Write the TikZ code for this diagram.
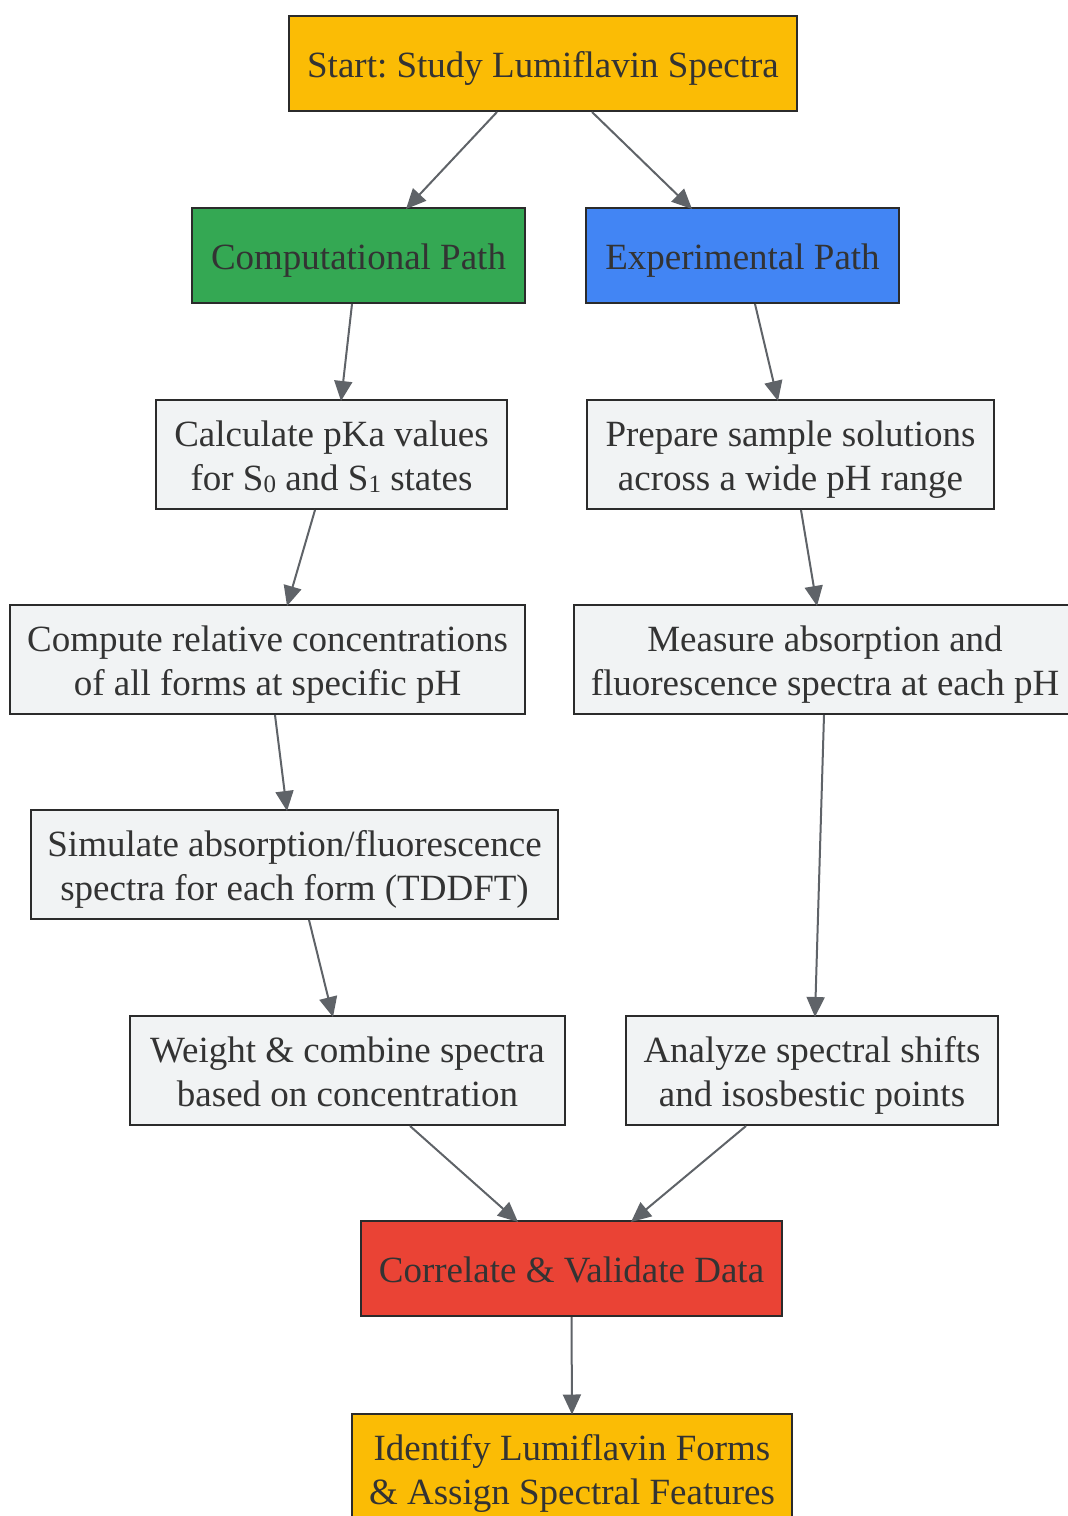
\documentclass[tikz,border=0pt]{standalone}
\usepackage{fontspec}
\setmainfont{Liberation Serif}
\usetikzlibrary{arrows.meta}
\definecolor{cyellow}{HTML}{FBBC05}
\definecolor{cgreen}{HTML}{34A853}
\definecolor{cblue}{HTML}{4285F4}
\definecolor{cgray}{HTML}{F1F3F4}
\definecolor{cred}{HTML}{EA4335}
\definecolor{cborder}{HTML}{2B2B2B}
\definecolor{ctext}{HTML}{333333}
\definecolor{cedge}{HTML}{5F6368}
\newcommand{\lsub}[1]{\raisebox{-0.06em}{\fontsize{25}{25}\selectfont #1}}
\newcommand{\twol}[2]{\rule{0pt}{36pt}#1\\#2\rule[-8.5pt]{0pt}{8.5pt}}
\tikzset{
  box/.style={rectangle, draw=cborder, line width=2pt, align=center, inner sep=0pt,
    text=ctext, font=\fontsize{37}{44}\selectfont\frenchspacing},
  onebox/.style={box, minimum height=95pt,
    execute at begin node={\rule{0pt}{36pt}},
    execute at end node={\rule[-8.5pt]{0pt}{8.5pt}}},
  twobox/.style={box, minimum height=109pt},
  edge/.style={draw=cedge, line width=2pt, -{Triangle[length=20pt,width=18pt]}, fill=cedge}
}
\begin{document}
\begin{tikzpicture}[x=1pt,y=-1pt]
\useasboundingbox (0,0) rectangle (1068,1516);
\node[onebox, fill=cyellow, minimum width=508pt] (start) at (543,63.5) {Start: Study Lumiflavin Spectra};
\node[onebox, fill=cgreen, minimum width=333pt] (comp) at (358.5,255.5) {Computational Path};
\node[onebox, fill=cblue, minimum width=313pt] (exp) at (742.5,255.5) {Experimental Path};
\node[twobox, fill=cgray, minimum width=351pt] (calc) at (331.5,454.5) {\twol{Calculate pKa values}{for S\lsub{0} and S\lsub{1} states}};
\node[twobox, fill=cgray, minimum width=407pt] (prep) at (790.5,454.5) {\twol{Prepare sample solutions}{across a wide pH range}};
\node[twobox, fill=cgray, minimum width=515pt] (compute) at (267.5,659.5) {\twol{Compute relative concentrations}{of all forms at specific pH}};
\node[twobox, fill=cgray, minimum width=502pt] (meas) at (825,659.5) {\twol{Measure absorption and}{fluorescence spectra at each pH}};
\node[twobox, fill=cgray, minimum width=527pt] (sim) at (294.5,864.5) {\twol{Simulate absorption/fluorescence}{spectra for each form (TDDFT)}};
\node[twobox, fill=cgray, minimum width=435pt] (weight) at (347.5,1070.5) {\twol{Weight \& combine spectra}{based on concentration}};
\node[twobox, fill=cgray, minimum width=372pt] (anal) at (812,1070.5) {\twol{Analyze spectral shifts}{and isosbestic points}};
\node[onebox, fill=cred, minimum width=421pt] (corr) at (571.5,1268.5) {Correlate \& Validate Data};
\node[twobox, fill=cyellow, minimum width=440pt, minimum height=110pt] (ident) at (572,1468.5) {\twol{Identify Lumiflavin Forms}{\& Assign Spectral Features}};

\draw[edge] ([xshift=-46pt]start.south) -- ([xshift=47.5pt,yshift=-2pt]comp.north);
\draw[edge] ([xshift=49pt]start.south) -- ([xshift=-50.5pt,yshift=-2pt]exp.north);
\draw[edge] ([xshift=-6.5pt]comp.south) -- ([xshift=9.5pt,yshift=-2pt]calc.north);
\draw[edge] ([xshift=12.5pt]exp.south) -- ([xshift=-12.5pt,yshift=-2pt]prep.north);
\draw[edge] ([xshift=-16.5pt]calc.south) -- ([xshift=19.5pt,yshift=-2pt]compute.north);
\draw[edge] ([xshift=10.5pt]prep.south) -- ([xshift=-8pt,yshift=-2pt]meas.north);
\draw[edge] ([xshift=7.5pt]compute.south) -- ([xshift=-7.5pt,yshift=-2pt]sim.north);
\draw[edge] ([xshift=-1pt]meas.south) -- ([xshift=3pt,yshift=-2pt]anal.north);
\draw[edge] ([xshift=14.5pt]sim.south) -- ([xshift=-14.5pt,yshift=-2pt]weight.north);
\draw[edge] ([xshift=62.5pt]weight.south) -- ([xshift=-53.5pt,yshift=-2pt]corr.north);
\draw[edge] ([xshift=-66pt]anal.south) -- ([xshift=59.5pt,yshift=-2pt]corr.north);
\draw[edge] (corr.south) -- ([yshift=-2pt]ident.north);
\end{tikzpicture}
\end{document}
